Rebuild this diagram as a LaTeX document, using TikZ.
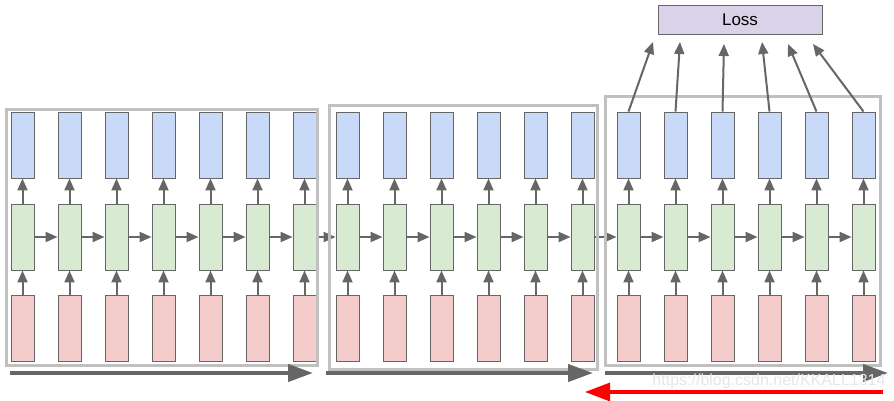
\documentclass[tikz,border=0pt]{standalone}
\usepackage{fontspec}
\setmainfont{Liberation Sans}
\usetikzlibrary{arrows.meta}
\definecolor{cblue}{HTML}{C9DAF8}
\definecolor{cgreen}{HTML}{D9EAD3}
\definecolor{cred}{HTML}{F4CCCC}
\definecolor{closs}{HTML}{D9D2E9}
\definecolor{cedge}{HTML}{666666}
\definecolor{cframe}{HTML}{C0C0C0}
\definecolor{carrow}{HTML}{666666}
\definecolor{cwm}{HTML}{E6E6E6}
\begin{document}
\begin{tikzpicture}[x=1pt,y=-1pt,
  cell/.style={draw=cedge,line width=0.9pt,minimum width=23pt,minimum height=66pt,inner sep=0pt},
  bluecell/.style={cell,fill=cblue},
  greencell/.style={cell,fill=cgreen},
  redcell/.style={cell,fill=cred},
  lossbox/.style={draw=cedge,line width=0.9pt,fill=closs,minimum width=164pt,minimum height=29pt,inner sep=0pt,font=\fontsize{17}{20}\selectfont},
  flow/.style={draw=carrow,line width=2pt,-{Triangle[length=12pt,width=10pt]}},
  frame/.style={draw=cframe,line width=3pt},
  bigarrow/.style={draw=carrow,line width=4pt,-{Triangle[length=25pt,width=17pt]}},
  backarrow/.style={draw=red,line width=3.2pt,-{Triangle[length=25pt,width=18pt]}},
  watermark/.style={text=cwm,font=\fontsize{16}{18}\selectfont,inner sep=0pt}
]
\useasboundingbox (0,0) rectangle (894,401);

% columns
\foreach \x [count=\i] in {22.5,69.5,116.5,163.5,210.5,257.5,304.5,
                           347.5,394.5,441.5,488.5,535.5,582.5,
                           628.5,675.5,722.5,769.5,816.5,863.5}{
  \node[bluecell]  (b\i) at (\x,145) {};
  \node[greencell] (g\i) at (\x,237) {};
  \node[redcell]   (r\i) at (\x,328) {};
  \draw[flow] (r\i.north) -- (g\i.south);
  \draw[flow] (g\i.north) -- (b\i.south);
}
\foreach \i [evaluate=\i as \j using int(\i+1)] in {1,...,18}{
  \draw[flow] (g\i.east) -- (g\j.west);
}

% frames (truncation windows)
\draw[frame] (6,110) rectangle (317.5,365);
\draw[frame] (329,106) rectangle (597,369);
\draw[frame] (605.5,97) rectangle (880.5,365);

% loss
\node[lossbox] (loss) at (740,19.5) {Loss};
\coordinate (l1) at (653,42);
\coordinate (l2) at (680,42);
\coordinate (l3) at (724,44);
\coordinate (l4) at (762,42);
\coordinate (l5) at (788,44);
\coordinate (l6) at (813,44);
\foreach \i [evaluate=\i as \k using int(\i+13)] in {1,...,6}{
  \draw[flow] (b\k.north) -- (l\i);
}

% bottom arrows
\coordinate (a1s) at (10,373);  \coordinate (a1e) at (313,373);
\coordinate (a2s) at (326,373); \coordinate (a2e) at (593,373);
\coordinate (a3s) at (605,373); \coordinate (a3e) at (888,373);
\coordinate (rs) at (883,392);  \coordinate (re) at (585,392);
\draw[bigarrow] (a1s) -- (a1e);
\draw[bigarrow] (a2s) -- (a2e);
\draw[bigarrow] (a3s) -- (a3e);

\node[watermark] (wm) at (769,381) {https://blog.csdn.net/KKALL1314};
\draw[backarrow] (rs) -- (re);
\end{tikzpicture}
\end{document}
